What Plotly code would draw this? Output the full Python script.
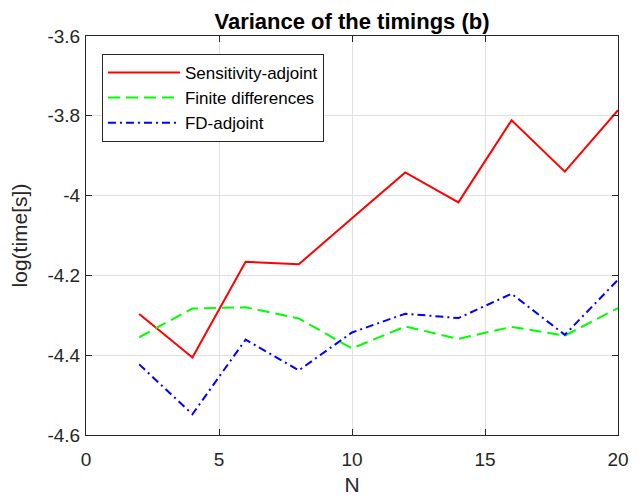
import plotly.graph_objects as go

N = [2, 4, 6, 8, 10, 12, 14, 16, 18, 20]
sens_adjoint = [-4.297, -4.406, -4.166, -4.172, -4.057, -3.942, -4.017, -3.811, -3.940, -3.786]
finite_diff = [-4.355, -4.283, -4.280, -4.308, -4.383, -4.328, -4.359, -4.329, -4.351, -4.282]
fd_adjoint = [-4.423, -4.548, -4.361, -4.438, -4.343, -4.296, -4.307, -4.246, -4.349, -4.211]

x_ticks = [0, 5, 10, 15, 20]
x_ticktext = ["0", "5", "10", "15", "20"]
y_ticks = [-4.6, -4.4, -4.2, -4.0, -3.8, -3.6]
y_ticktext = ["-4.6", "-4.4", "-4.2", "-4", "-3.8", "-3.6"]

FONT = "Liberation Sans, Arial, Helvetica, sans-serif"
AX = "#262626"

W, H = 636, 495
L, R, T, B = 78, 26, 28, 68

fig = go.Figure()
fig.add_trace(go.Scatter(x=N, y=sens_adjoint, mode="lines", name="Sensitivity-adjoint",
                         line=dict(color="#ff0000", width=2)))
fig.add_trace(go.Scatter(x=N, y=finite_diff, mode="lines", name="Finite differences",
                         line=dict(color="#00ff00", width=2, dash="12px,6px")))
fig.add_trace(go.Scatter(x=N, y=fd_adjoint, mode="lines", name="FD-adjoint",
                         line=dict(color="#0000ff", width=2, dash="8px,4px,2px,4px")))

axis_common = dict(
    showline=True, linecolor=AX, linewidth=1, mirror="ticks",
    ticks="inside", ticklen=6, tickwidth=1, tickcolor=AX,
    showgrid=True, gridcolor="#e0e0e0", gridwidth=1,
    zeroline=False,
    tickfont=dict(family=FONT, size=19, color=AX),
)

fig.update_layout(
    width=W, height=H,
    margin=dict(l=L, r=R, t=T, b=B),
    paper_bgcolor="white", plot_bgcolor="white",
    font=dict(family=FONT, color=AX),
    title=dict(text="<b>Variance of the timings (b)</b>", x=(L + (W - L - R) / 2) / W, xanchor="center",
               y=1 - 13 / H, yanchor="middle", yref="container",
               font=dict(family=FONT, size=22, color="black")),
    xaxis=dict(range=[0, 20], tickvals=x_ticks, ticktext=x_ticktext,
               ticklabelstandoff=7,
               title=dict(text="N", font=dict(family=FONT, size=21, color=AX), standoff=8),
               **axis_common),
    yaxis=dict(range=[-4.6, -3.6], tickvals=y_ticks, ticktext=y_ticktext,
               ticklabelstandoff=1,
               title=dict(text="log(time[s])", font=dict(family=FONT, size=21, color=AX), standoff=14),
               **axis_common),
    legend=dict(x=0.03, y=0.955, xanchor="left", yanchor="top",
                bgcolor="white", bordercolor=AX, borderwidth=1,
                font=dict(family=FONT, size=17, color="black"),
                itemwidth=72, tracegroupgap=0,
                entrywidth=150, entrywidthmode="pixels"),
    showlegend=True,
)

fig.write_html("out.html")
